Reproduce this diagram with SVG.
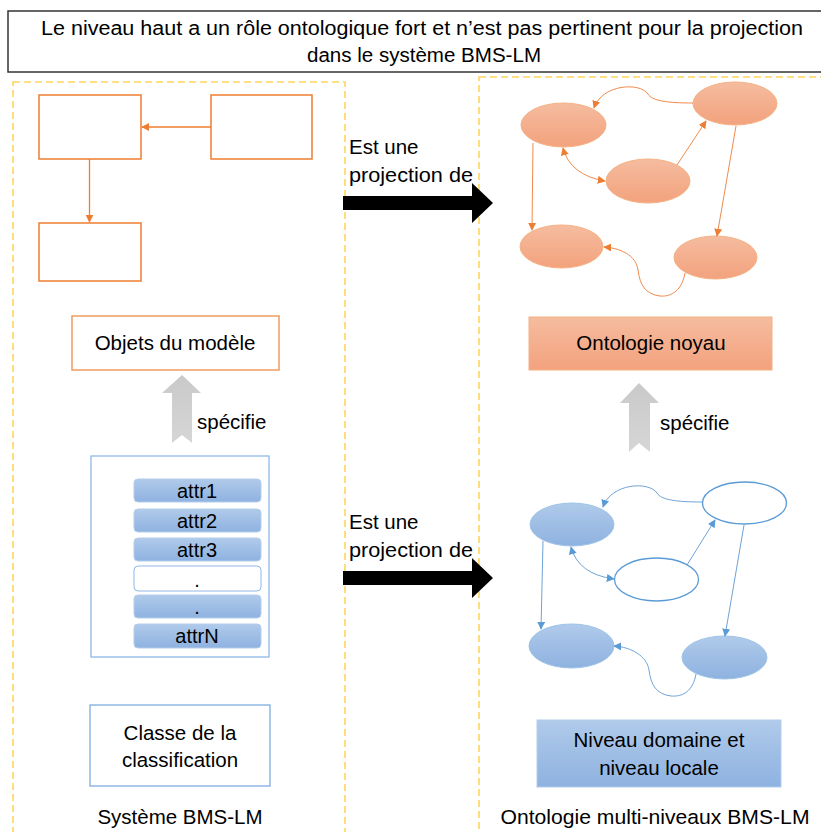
<svg xmlns="http://www.w3.org/2000/svg" width="821" height="832" viewBox="0 0 821 832">
<defs>
<linearGradient id="gOr" x1="0" y1="0" x2="0" y2="1"><stop offset="0" stop-color="#F5BC9F"/><stop offset="1" stop-color="#F3A27D"/></linearGradient>
<linearGradient id="gBl" x1="0" y1="0" x2="0" y2="1"><stop offset="0" stop-color="#B0CAEA"/><stop offset="1" stop-color="#8EB2E0"/></linearGradient>
<linearGradient id="gGr" x1="0" y1="0" x2="0" y2="1"><stop offset="0" stop-color="#C9C9C9"/><stop offset="1" stop-color="#D6D6D6"/></linearGradient>
<marker id="aO" viewBox="0 0 10 10" refX="9" refY="5" markerWidth="8" markerHeight="8" markerUnits="userSpaceOnUse" orient="auto-start-reverse"><path d="M0,0 L10,5 L0,10 z" fill="#ED7D31"/></marker>
<marker id="aB" viewBox="0 0 10 10" refX="9" refY="5" markerWidth="8" markerHeight="8" markerUnits="userSpaceOnUse" orient="auto-start-reverse"><path d="M0,0 L10,5 L0,10 z" fill="#5B9BD5"/></marker>
</defs>
<style>
text{font-family:"Liberation Sans",Arial,sans-serif;fill:#000;}
.t{font-size:20.5px;}
.ta{font-size:20px;}
.c{text-anchor:middle;}
.zone{fill:none;stroke:#FFD45C;stroke-width:1.6;stroke-dasharray:7,4;}
.obox{fill:#fff;stroke:#ED7D31;stroke-width:1.5;}
.oe{fill:url(#gOr);stroke:#F4B183;stroke-width:1;}
.be{fill:url(#gBl);stroke:#9DC3E6;stroke-width:1;}
.bo{fill:#fff;stroke:#5B9BD5;stroke-width:1.3;}
.oline{fill:none;stroke:#F08A4B;stroke-width:1;marker-end:url(#aO);}
.oline2{fill:none;stroke:#ED7D31;stroke-width:1.3;marker-end:url(#aO);}
.bline{fill:none;stroke:#6FA3D8;stroke-width:1;marker-end:url(#aB);}
.attr{fill:url(#gBl);stroke:#B4CDEB;stroke-width:1;}
.gray{fill:url(#gGr);}
</style>
<rect width="821" height="832" fill="#fff"/>

<g id="title">
<rect x="8" y="11" width="830" height="61" fill="#fff" stroke="#333" stroke-width="1.5"/>
<text class="c" font-size="20" x="422" y="35" textLength="762" lengthAdjust="spacingAndGlyphs">Le niveau haut a un rôle ontologique fort et n’est pas pertinent pour la projection</text>
<text class="c" font-size="20" x="424" y="62" textLength="234" lengthAdjust="spacingAndGlyphs">dans le système BMS-LM</text>
</g>

<g id="zones">
<rect class="zone" x="13" y="82" width="332" height="770"/>
<rect class="zone" x="479" y="77" width="360" height="775"/>
</g>

<g id="boxA"><rect class="obox" x="39" y="95" width="102" height="64"/></g>
<g id="boxB"><rect class="obox" x="211" y="95" width="101" height="64"/></g>
<g id="boxC"><rect class="obox" x="39" y="223" width="102" height="58"/></g>

<g id="objets"><rect x="72" y="316" width="207" height="54" fill="#fff" stroke="#F29A62" stroke-width="1.5"/>
<text class="t c" x="175" y="350">Objets du modèle</text></g>

<g id="specifie1"><polygon class="gray" points="182,375 201,393 192,393 192,443 182,435 172,443 172,393 162,393"/>
<text class="t" x="197" y="429">spécifie</text></g>

<g id="attributes">
<rect x="91" y="456" width="178" height="201" fill="#fff" stroke="#8FB8E6" stroke-width="1.3"/>
<rect class="attr" x="134" y="479" width="127" height="23" rx="4"/><text class="ta c" x="197" y="498">attr1</text>
<rect class="attr" x="134" y="509" width="127" height="23" rx="4"/><text class="ta c" x="197" y="528">attr2</text>
<rect class="attr" x="134" y="538" width="127" height="23" rx="4"/><text class="ta c" x="197" y="557">attr3</text>
<rect x="134" y="566" width="127" height="25" rx="4" fill="#fff" stroke="#8FB8E6" stroke-width="1"/><text class="ta c" x="197" y="587">.</text>
<rect class="attr" x="134" y="595" width="127" height="23" rx="4"/><text class="ta c" x="197" y="614">.</text>
<rect class="attr" x="134" y="624" width="127" height="24" rx="4"/><text class="ta c" x="197" y="643">attrN</text>
</g>

<g id="classe"><rect x="90" y="705" width="180" height="81" fill="#fff" stroke="#7FAEE0" stroke-width="1.3"/>
<text class="t c" x="180" y="740">Classe de la</text>
<text class="t c" x="180" y="767">classification</text></g>

<g id="systeme"><text class="t c" x="180" y="824">Système BMS-LM</text></g>

<g id="proj1"><polygon points="343,196 472,196 472,183 493,203 472,223 472,210 343,210" fill="#000"/>
<text class="t" x="349" y="154">Est une</text><text class="t" x="349" y="182" textLength="124" lengthAdjust="spacingAndGlyphs">projection de</text></g>
<g id="proj2"><polygon points="343,571 472,571 472,558 493,578 472,598 472,585 343,585" fill="#000"/>
<text class="t" x="349" y="529">Est une</text><text class="t" x="349" y="557" textLength="124" lengthAdjust="spacingAndGlyphs">projection de</text></g>

<g id="E1"><ellipse class="oe" cx="563.5" cy="125" rx="42.5" ry="22"/></g>
<g id="E2"><ellipse class="oe" cx="735" cy="103.5" rx="42" ry="21.5"/></g>
<g id="E3"><ellipse class="oe" cx="648" cy="181" rx="42" ry="22"/></g>
<g id="E4"><ellipse class="oe" cx="561.5" cy="246.5" rx="41.5" ry="21.5"/></g>
<g id="E5"><ellipse class="oe" cx="715.5" cy="257.5" rx="41.5" ry="21.5"/></g>

<g id="noyau"><rect x="529" y="317" width="243" height="53" fill="url(#gOr)" stroke="#F4B183" stroke-width="1"/>
<text class="t c" x="651" y="350">Ontologie noyau</text></g>

<g id="specifie2"><polygon class="gray" points="639,383 659,403 650,403 650,452 639,443 629,452 629,403 620,403"/>
<text class="t" x="660" y="430">spécifie</text></g>

<g id="F1"><ellipse class="be" cx="572" cy="524.5" rx="42" ry="21.5"/></g>
<g id="F2"><ellipse class="bo" cx="744.5" cy="503" rx="42" ry="21"/></g>
<g id="F3"><ellipse class="bo" cx="656.5" cy="579.5" rx="42" ry="21.5"/></g>
<g id="F4"><ellipse class="be" cx="571.5" cy="646" rx="42.5" ry="22"/></g>
<g id="F5"><ellipse class="be" cx="724.5" cy="657.5" rx="42.5" ry="21.5"/></g>

<g id="niveau"><rect x="537" y="720" width="244" height="67" fill="url(#gBl)" stroke="#B4CDEB" stroke-width="1"/>
<text class="t c" x="659" y="747">Niveau domaine et</text>
<text class="t c" x="659" y="775">niveau locale</text></g>

<g id="ontologie"><text class="t c" x="655" y="824" textLength="309" lengthAdjust="spacingAndGlyphs">Ontologie multi-niveaux BMS-LM</text></g>

<g id="connectors">
<path class="oline2" d="M211,127 L142,127"/>
<path class="oline2" d="M89.5,159 L89.5,222"/>

<path class="oline" d="M693,103 C668,103 652,101 648,94 C640,82 602,84 594,108"/>
<path class="oline" d="M677,165 L706,121"/>
<path class="oline" d="M563,148 Q570,175 605,181" marker-start="url(#aO)"/>
<path class="oline" d="M533,143 L532,230"/>
<path class="oline" d="M736,126 L717,236"/>
<path class="oline" d="M685,273 C682,290 672,297 660,296 C645,294 640,285 638,270 C636,255 620,248 604,247"/>

<path class="bline" d="M702,502 C677,502 661,500 657,493 C649,481 611,483 603,507"/>
<path class="bline" d="M687,565 L715,520"/>
<path class="bline" d="M571,547 Q578,574 614,579" marker-start="url(#aB)"/>
<path class="bline" d="M543,541 L541,629"/>
<path class="bline" d="M744,525 L725,636"/>
<path class="bline" d="M696,674 C693,691 683,697 671,696 C656,694 651,685 649,670 C647,656 631,647 614,646"/>
</g>
</svg>
